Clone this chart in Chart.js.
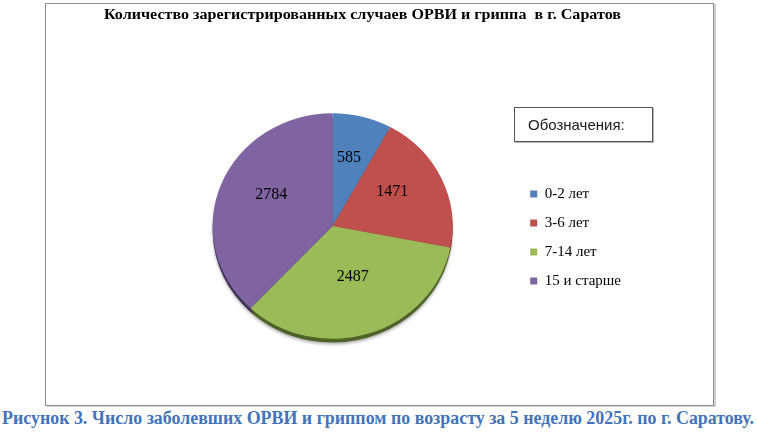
<!DOCTYPE html>
<html lang="ru">
<head>
<meta charset="utf-8">
<title>ОРВИ и грипп, г. Саратов</title>
<script src="https://cdn.jsdelivr.net/npm/chart.js@4.4.1/dist/chart.umd.min.js"></script>
<style>
  html, body { margin: 0; padding: 0; background: #fff; }
  body { width: 757px; height: 433px; position: relative; overflow: hidden; }
  .frame {
    position: absolute; left: 45px; top: 3px; width: 669px; height: 403px;
    box-sizing: border-box; border: 1px solid #8c8c8c; box-shadow: 2px 1px 0 #d0d0d0;
  }
  .chart-box { position: absolute; left: 45px; top: 3px; width: 668px; height: 402px; }
  .fit-text {
    position: absolute; white-space: pre; line-height: 1; transform-origin: 0 0;
    font-family: 'Liberation Serif', 'Times New Roman', serif; font-weight: bold;
  }
  #title { left: 104px; top: 8px; font-size: 14px; color: #000; }
  #caption { left: 2px; top: 409px; font-size: 18px; color: #4373b8; }
  .legend-head {
    position: absolute; left: 514px; top: 107px; width: 139px; height: 35px;
    box-sizing: border-box; border: 1px solid #555; box-shadow: 1px 1px 0 #b5b5b5;
    font: 15px 'Liberation Sans', Arial, sans-serif; color: #1a1a1a;
    padding-left: 13px; line-height: 33px;
  }
</style>
</head>
<body>
<div class="frame"></div>
<div class="chart-box"><canvas id="pie"></canvas></div>
<span class="fit-text" id="title">Количество зарегистрированных случаев ОРВИ и гриппа  в г. Саратов</span>
<div class="legend-head">Обозначения:</div>
<span class="fit-text" id="caption">Рисунок 3. Число заболевших ОРВИ и гриппом по возрасту за 5 неделю 2025г. по г. Саратову.</span>

<script>
// данные диаграммы
const categories = ['0-2 лет', '3-6 лет', '7-14 лет', '15 и старше']
const cases = [585, 1471, 2487, 2784]

// оформление
const sliceColors = ['#4f81bd', '#c0504d', '#9bbb59', '#8064a2']
const edgeColors = ['#2c4d75', '#772c2a', '#4f6228', '#3f3151']
const TILT = 0.94 // сжатие круга по вертикали
const DEPTH = 4   // толщина бортика

/**
 * Наклон круга и тёмный бортик снизу (псевдо-3D как в Excel)
 */
const tiltPlugin = {
  id: 'tilt',
  beforeDatasetsDraw(chart) {
    const arcs = chart.getDatasetMeta(0).data
    const ctx = chart.ctx
    ctx.save()
    if (!arcs.length) return
    const { x, y } = arcs[0]
    ctx.translate(x, y)
    ctx.scale(1, TILT)
    ctx.translate(-x, -y)

    ctx.save()
    ctx.shadowColor = 'rgba(0, 0, 0, 0.3)'
    ctx.shadowBlur = 3
    ctx.shadowOffsetY = 2
    arcs.forEach((arc, i) => {
      const { startAngle, endAngle, outerRadius } = arc.getProps(['startAngle', 'endAngle', 'outerRadius'])
      ctx.beginPath()
      ctx.moveTo(x, y + DEPTH)
      ctx.arc(x, y + DEPTH, outerRadius, startAngle, endAngle)
      ctx.closePath()
      ctx.fillStyle = edgeColors[i]
      ctx.fill()
    })
    ctx.restore()
  },
  afterDatasetsDraw(chart) {
    chart.ctx.restore()
  }
}

/**
 * Подписи значений внутри секторов
 */
const valueLabels = {
  id: 'valueLabels',
  afterDatasetsDraw(chart) {
    const ctx = chart.ctx
    const meta = chart.getDatasetMeta(0)
    ctx.save()
    ctx.font = '16px "Liberation Serif", serif'
    ctx.fillStyle = '#000'
    ctx.textAlign = 'center'
    ctx.textBaseline = 'middle'
    meta.data.forEach((arc, i) => {
      const { x, y, startAngle, endAngle, outerRadius } =
        arc.getProps(['x', 'y', 'startAngle', 'endAngle', 'outerRadius'])
      const mid = (startAngle + endAngle) / 2
      const r = outerRadius * 0.55
      ctx.fillText(String(cases[i]), x + Math.cos(mid) * r, y + Math.sin(mid) * r * TILT - 8)
    })
    ctx.restore()
  }
}

new Chart(document.getElementById('pie'), {
  type: 'pie',
  data: {
    labels: categories,
    datasets: [{
      data: cases,
      backgroundColor: sliceColors,
      borderWidth: 0,
      hoverBorderWidth: 0,
      hoverOffset: 0
    }]
  },
  options: {
    responsive: true,
    maintainAspectRatio: false,
    animation: false,
    events: [],
    layout: { padding: { left: 104, right: 82, top: 103, bottom: 59 } },
    plugins: {
      legend: {
        position: 'right',
        title: { display: true, text: '', padding: { top: 0, bottom: 8.6 } },
        labels: {
          boxWidth: 7,
          boxHeight: 7,
          padding: 14,
          color: '#000',
          font: { family: '"Liberation Serif", "Times New Roman", serif', size: 15 }
        }
      },
      tooltip: { enabled: false }
    }
  },
  plugins: [tiltPlugin, valueLabels]
})

// подгонка ширины заголовка и подписи под оригинал
function fitWidth(id, target) {
  const el = document.getElementById(id)
  const w = el.getBoundingClientRect().width
  el.style.transform = `scaleX(${target / w})`
}
fitWidth('title', 517)
fitWidth('caption', 752)
</script>
</body>
</html>
